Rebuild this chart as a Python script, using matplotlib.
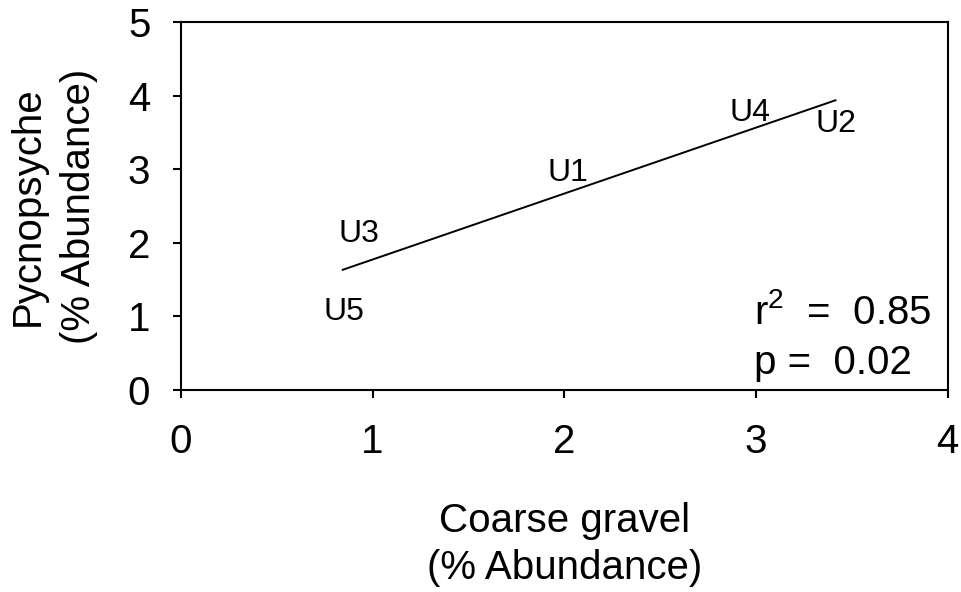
import matplotlib
matplotlib.use("Agg")
import matplotlib.pyplot as plt

# site labels, placed where they sit on the chart
sites = ["U1", "U2", "U3", "U4", "U5"]
site_x = [2.02, 3.42, 0.93, 2.97, 0.85]
site_y = [2.95, 3.61, 2.12, 3.76, 1.06]

# regression line end points
fit_x = [0.84, 3.42]
fit_y = [1.63, 3.94]

x_ticks = [0, 1, 2, 3, 4]
y_ticks = [0, 1, 2, 3, 4, 5]

r2_text = "r$^2$  =  0.85"
p_text = "p =  0.02"

plt.rcParams["font.family"] = ["Liberation Sans", "DejaVu Sans"]
plt.rcParams["mathtext.fontset"] = "custom"
plt.rcParams["mathtext.rm"] = "Liberation Sans"
plt.rcParams["mathtext.default"] = "regular"

fig = plt.figure(figsize=(9.62, 5.92), dpi=100)
ax = fig.add_axes([0.188, 0.341, 0.797, 0.622])

ax.plot(fit_x, fit_y, color="black", lw=1.4, solid_capstyle="butt")

for name, x, y in zip(sites, site_x, site_y):
    ax.text(x, y, name, ha="center", va="center", fontsize=23)

ax.text(2.99, 1.05, r2_text, ha="left", va="center", fontsize=29)
ax.text(2.99, 0.37, p_text, ha="left", va="center", fontsize=29)

ax.set_xlim(0, 4)
ax.set_ylim(0, 5)
ax.set_xticks(x_ticks)
ax.set_yticks(y_ticks)
ax.tick_params(direction="out", length=6, width=1.5, labelsize=29)
ax.tick_params(axis="x", pad=18)
ax.tick_params(axis="y", pad=16)
for s in ax.spines.values():
    s.set_linewidth(1.5)

ax.set_xlabel("Coarse gravel\n(% Abundance)", fontsize=29, linespacing=1.3)
ax.set_ylabel("Pycnopsyche\n(% Abundance)", fontsize=29, linespacing=1.45)
ax.xaxis.set_label_coords(0.5, -0.305)
ax.yaxis.set_label_coords(-0.108, 0.5)

fig.savefig("out.png", dpi=100)
